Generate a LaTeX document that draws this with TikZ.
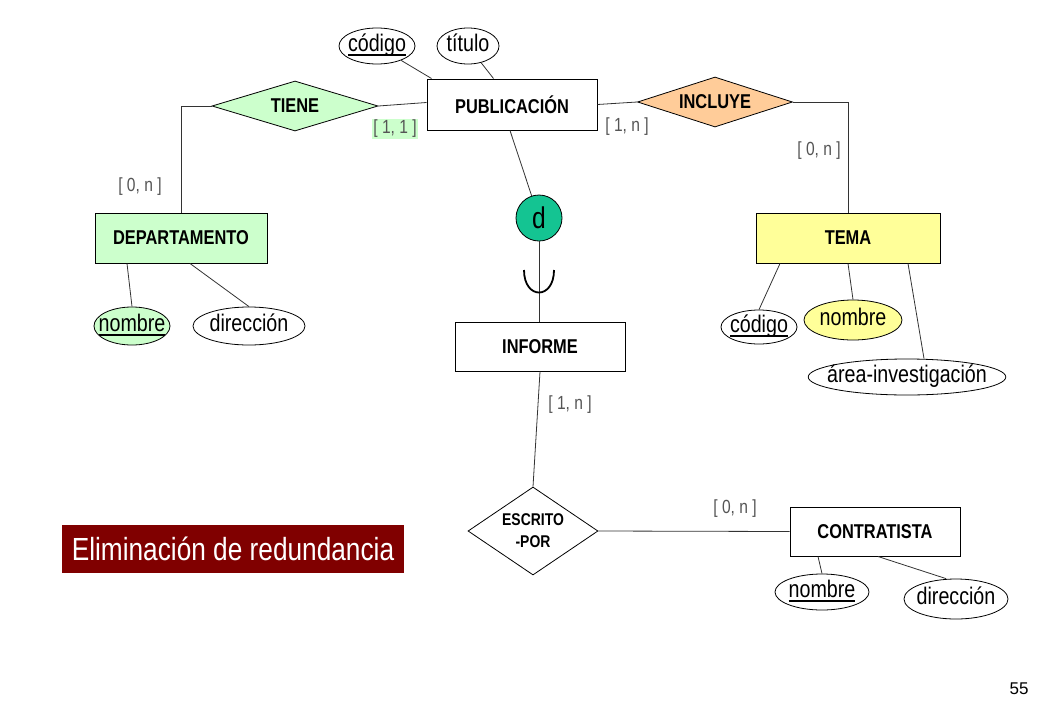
\documentclass[tikz,border=0pt]{standalone}
\usepackage{fontspec}
\setmainfont{Liberation Sans}[FakeStretch=0.82]
\newfontfamily\plainfont{Liberation Sans}
\usetikzlibrary{shapes.geometric}
\definecolor{lgreen}{HTML}{CCFFCC}
\definecolor{lorange}{HTML}{FFCC99}
\definecolor{lyellow}{HTML}{FFFF99}
\definecolor{dgreen}{RGB}{20,196,146}
\definecolor{dred}{HTML}{800000}
\definecolor{cardgray}{HTML}{555555}
\definecolor{linegray}{HTML}{333333}
\newcommand\myul[1]{\setbox0\hbox{#1}\rlap{\rule[-4.5pt]{\wd0}{2pt}}\box0}
\begin{document}
\begin{tikzpicture}[x=1pt,y=-1pt,
  ent/.style={draw, line width=1pt, rectangle, inner sep=0pt, font=\bfseries\fontsize{20}{22}\selectfont},
  attr/.style={draw, line width=0.8pt, ellipse, inner xsep=-10pt, inner ysep=0pt, text height=12pt, text depth=2pt, font=\fontsize{24}{26}\selectfont},
  rel/.style={draw, line width=0.8pt, diamond, inner sep=0pt, font=\bfseries\fontsize{20}{22}\selectfont},
  card/.style={text=cardgray, inner sep=1.5pt, font=\fontsize{19}{21}\selectfont},
  conn/.style={draw=linegray, line width=0.8pt}]
\useasboundingbox (0,0) rectangle (1040,720);
% entities
\node[ent, minimum width=170, minimum height=51] (pub) at (512,104.5) {PUBLICACIÓN};
\node[ent, fill=lgreen, minimum width=172, minimum height=50] (dep) at (181,238) {DEPARTAMENTO};
\node[ent, fill=lyellow, minimum width=184, minimum height=50] (tema) at (848,238) {TEMA};
\node[ent, minimum width=170, minimum height=49] (inf) at (540,346.5) {INFORME};
\node[ent, minimum width=170, minimum height=49] (con) at (875,531.5) {CONTRATISTA};
% relationships
\node[rel, fill=lgreen, shape aspect=3.3, minimum width=166, minimum height=50] (tiene) at (295,106) {TIENE};
\node[rel, fill=lorange, shape aspect=3.1, minimum width=155, minimum height=50] (incl) at (715,102) {INCLUYE};
\node[rel, shape aspect=1.48, minimum width=130, minimum height=88, font=\bfseries\fontsize{17}{19}\selectfont, align=center] (esc) at (533,531) {ESCRITO\\[3pt]-POR};
% specialization circle
\node[draw, line width=0.8pt, circle, fill=dgreen, minimum size=46, inner sep=0pt, font=\fontsize{30}{32}\selectfont] (d) at (539,218) {d};
% attributes
\node[attr, minimum width=76, minimum height=36] (cod1) at (377,46) {\myul{código}};
\node[attr, minimum width=62, minimum height=36] (tit) at (468,46) {título};
\node[attr, fill=lgreen, minimum width=76, minimum height=38] (nom1) at (132,326) {\myul{nombre}};
\node[attr, minimum width=112, minimum height=38] (dir1) at (249,326) {dirección};
\node[attr, minimum width=76, minimum height=34] (cod2) at (759,327) {\myul{código}};
\node[attr, fill=lyellow, minimum width=98, minimum height=40] (nom2) at (853,320) {nombre};
\node[attr, minimum width=196, minimum height=36] (area) at (907,377) {área-investigación};
\node[attr, minimum width=94, minimum height=36] (nom3) at (822,592) {\myul{nombre}};
\node[attr, minimum width=104, minimum height=40] (dir3) at (956,599) {dirección};
% connectors
\draw[conn] (cod1) -- ([xshift=5pt]pub.north west);
\draw[conn] (tit) -- ([xshift=67pt]pub.north west);
\draw[conn] (tiene.east) -- ([yshift=2pt]pub.west);
\draw[conn] (tiene.west) -| (dep.north);
\draw[conn] (pub.east) -- (incl.west);
\draw[conn] (incl.east) -| (tema.north);
\draw[conn] ([xshift=-54pt]dep.south) -- (nom1.north);
\draw[conn] ([xshift=9pt]dep.south) -- (dir1.north);
\draw[conn] ([xshift=-68pt]tema.south) -- (cod2.north);
\draw[conn] (tema.south) -- (nom2.north);
\draw[conn] ([xshift=60pt]tema.south) -- ([xshift=17pt]area.north);
\draw[conn] ([xshift=-2pt]pub.south) -- (d);
\draw[conn] (d.south) -- (d.south |- inf.north);
\draw[conn] (inf.south) -- (esc.north);
\draw[conn] (esc.east) -- (con.west);
\draw[conn] ([xshift=-57pt]con.south) -- (nom3.north);
\draw[conn] ([xshift=3pt]con.south) -- ([xshift=-10pt]dir3.north);
% union symbol
\draw[line width=1.8pt] (524,270) .. controls (524,300) and (554,300) .. (554,270);
% cardinalities
\node[card, fill=lgreen] (c1) at (395,129) {[ 1, 1 ]};
\node[card] (c2) at (140,187) {[ 0, n ]};
\node[card] (c3) at (627,127) {[ 1, n ]};
\node[card] (c4) at (819,151) {[ 0, n ]};
\node[card] (c5) at (570,405) {[ 1, n ]};
\node[card] (c6) at (735,509) {[ 0, n ]};
% title
\node[fill=dred, text=white, minimum width=342, minimum height=48, inner sep=0pt, font=\fontsize{32}{34}\selectfont] (title) at (233,549) {Eliminación de redundancia};
\node[font=\plainfont\fontsize{17}{19}\selectfont, inner sep=0pt] (page) at (1019,689) {55};
\end{tikzpicture}
\end{document}
